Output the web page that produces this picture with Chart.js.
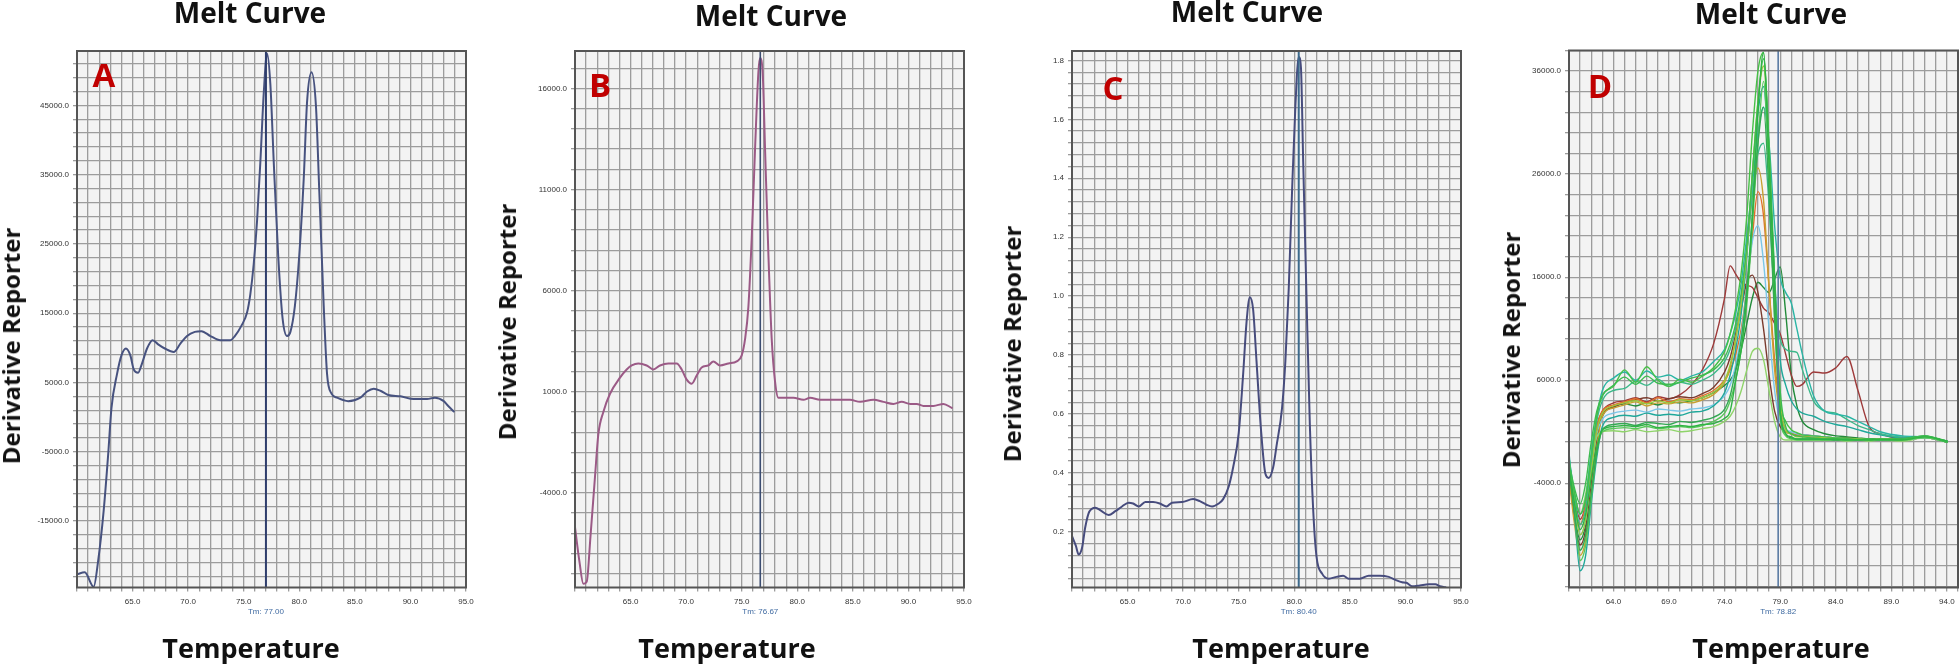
<!DOCTYPE html>
<html>
<head>
<meta charset="utf-8">
<script src="https://cdn.jsdelivr.net/npm/chart.js@4.4.1/dist/chart.umd.min.js"></script>
<style>
    html, body { margin: 0; padding: 0; background: #fff; }
    body { position: relative; width: 1960px; height: 666px; overflow: hidden; font-family: "Open Sans", sans-serif; }
    canvas { position: absolute; top: 0; }
    .lbl { position: absolute; transform: translate(-50%, -50%); white-space: nowrap; font-weight: 700; line-height: 1; color: #111; }
    .title { font-size: 28px; }
    .xt { font-size: 27px; }
    .yt { font-size: 24px; transform: translate(-50%, -50%) rotate(-90deg); }
    .tag { font-size: 33px; color: #c00000; }
</style>
</head>
<body>
<canvas id="chartA" width="490" height="666" style="left:0px"></canvas>
<canvas id="chartB" width="490" height="666" style="left:490px"></canvas>
<canvas id="chartC" width="490" height="666" style="left:980px"></canvas>
<canvas id="chartD" width="490" height="666" style="left:1470px"></canvas>

<div class="lbl title" style="left:250px;top:12px">Melt Curve</div>
<div class="lbl title" style="left:771px;top:15px">Melt Curve</div>
<div class="lbl title" style="left:1247px;top:11px">Melt Curve</div>
<div class="lbl title" style="left:1771px;top:13px">Melt Curve</div>

<div class="lbl xt" style="left:251px;top:647px">Temperature</div>
<div class="lbl xt" style="left:727px;top:647px">Temperature</div>
<div class="lbl xt" style="left:1281px;top:647px">Temperature</div>
<div class="lbl xt" style="left:1781px;top:647px">Temperature</div>

<div class="lbl yt" style="left:11px;top:346px">Derivative Reporter</div>
<div class="lbl yt" style="left:507px;top:322px">Derivative Reporter</div>
<div class="lbl yt" style="left:1012px;top:344px">Derivative Reporter</div>
<div class="lbl yt" style="left:1511px;top:350px">Derivative Reporter</div>

<div class="lbl tag" style="left:104px;top:74px">A</div>
<div class="lbl tag" style="left:600px;top:84px">B</div>
<div class="lbl tag" style="left:1113px;top:87px">C</div>
<div class="lbl tag" style="left:1600px;top:85px">D</div>

<script>
// panel A
const aTemps = [60, 60.7, 61.5, 61.9, 62.4, 62.8, 63.1, 63.6, 64.0, 64.4, 64.8, 65.1, 65.5, 65.8, 66.3, 66.8, 67.3, 67.9, 68.7, 69.3,
    69.9, 70.6, 71.2, 72.0, 72.9, 73.8, 74.2, 74.8, 75.3, 75.6, 75.9, 76.2, 76.5, 76.8, 77.1, 77.4, 77.7, 78.1, 78.5, 78.9,
    79.2, 79.6, 80.0, 80.4, 80.7, 81.1, 81.5, 81.8, 82.2, 82.5, 82.9, 83.4, 84.4, 85.5, 86.1, 86.7, 87.3, 88.0, 89.1, 90.3,
    91.5, 92.2, 93.0, 93.4, 93.9];
const aValues = [-22700, -22400, -24500, -20800, -13500, -5500, 1300, 6200, 8900, 9900, 8900, 6900, 6400, 7500, 9900, 11100, 10500, 9900, 9400, 10600,
    11700, 12300, 12400, 11700, 11100, 11100, 11700, 13200, 15100, 17800, 22100, 28300, 36900, 46700, 52500, 48000, 36900, 23400, 14200, 11700,
    12300, 16000, 23400, 34400, 45500, 49800, 44900, 32600, 16000, 6200, 3400, 2800, 2300, 2800, 3700, 4100, 3800, 3200, 3000, 2600,
    2600, 2800, 2300, 1600, 800];

// panel B
const bTemps = [60, 60.4, 60.75, 61.05, 61.4, 61.8, 62.1, 62.55, 63.15, 64.05, 64.65, 65.1, 65.7, 66.45, 67.05, 67.65, 68.4, 69.15, 69.6, 70.05,
    70.5, 70.95, 71.4, 72.0, 72.45, 73.05, 73.8, 74.55, 75.0, 75.3, 75.6, 75.9, 76.2, 76.5, 76.65, 76.9, 77.1, 77.4, 77.7, 78.0,
    78.3, 78.75, 79.65, 80.55, 81.15, 82.05, 83.55, 84.75, 85.65, 86.85, 87.75, 88.65, 89.4, 90.15, 90.75, 91.35, 92.25, 93.15, 93.9];
const bValues = [-5700, -7400, -8500, -8400, -6100, -3200, -1100, 0, 900, 1700, 2100, 2300, 2400, 2300, 2100, 2300, 2400, 2400, 2100, 1600,
    1400, 1800, 2200, 2300, 2500, 2300, 2400, 2500, 2800, 3600, 5200, 8600, 13000, 16800, 17500, 16600, 13000, 7800, 3600, 1500,
    700, 700, 700, 600, 700, 600, 600, 600, 500, 600, 500, 400, 500, 400, 400, 300, 300, 400, 200];

// panel C
const cTemps = [60, 60.35, 60.6, 60.9, 61.2, 61.55, 62.1, 62.6, 63.3, 63.9, 64.5, 65.1, 65.5, 66.0, 66.6, 67.3, 67.9, 68.5, 69.0, 69.9,
    70.9, 71.5, 72.1, 72.6, 73.2, 73.6, 74.1, 74.5, 75.0, 75.4, 75.7, 76.0, 76.3, 76.6, 77.0, 77.4, 77.7, 78.1, 78.4, 78.9,
    79.2, 79.5, 79.8, 80.1, 80.4, 80.6, 80.8, 81.1, 81.4, 81.7, 82.0, 82.5, 83.1, 83.8, 84.4, 84.9, 85.9, 86.7, 87.7, 88.5,
    89.1, 89.7, 90.1, 90.6, 91.3, 92.1, 92.7, 93.1, 93.6];
const cValues = [0.185, 0.152, 0.123, 0.145, 0.217, 0.268, 0.282, 0.272, 0.257, 0.270, 0.286, 0.299, 0.296, 0.286, 0.301, 0.301, 0.296, 0.286, 0.299, 0.301,
    0.311, 0.304, 0.292, 0.286, 0.296, 0.311, 0.354, 0.419, 0.535, 0.736, 0.910, 0.996, 0.953, 0.780, 0.549, 0.397, 0.383, 0.419, 0.491, 0.621,
    0.780, 1.025, 1.357, 1.646, 1.812, 1.775, 1.458, 0.996, 0.563, 0.275, 0.116, 0.058, 0.041, 0.047, 0.051, 0.041, 0.041, 0.051, 0.051, 0.047,
    0.037, 0.029, 0.027, 0.015, 0.018, 0.022, 0.022, 0.015, 0.012];

// panel D: all wells share one temperature grid
const dTemps = [60, 60.5, 61, 61.5, 62, 62.5, 63, 64, 65, 66, 67, 68, 69, 70, 71, 72, 73,
    74, 74.5, 75, 75.5, 76, 76.5, 77, 77.5, 78, 78.5, 79, 79.5, 80, 80.5, 81,
    82, 83, 84, 85, 86, 87, 88, 90, 92, 94];
const dWell1 = [-2500, -6000, -8500, -7000, -3500, -500, 1200, 1500, 1600, 1500, 1700, 1400, 1500, 1600, 1500, 1700, 1800,
    2300, 3000, 6000, 9000, 14000, 22000, 32000, 37800, 27000, 15000, 3000, 800, 400, 300, 300,
    300, 250, 300, 200, 250, 200, 300, 200, 500, 100];
const dWell2 = [-2000, -4500, -6000, -4000, 0, 3000, 4500, 5500, 6300, 5600, 6400, 5700, 5600, 5800, 6200, 6500, 7000,
    8200, 9500, 11500, 14500, 19000, 26000, 33000, 37200, 29000, 16000, 5000, 1500, 800, 600, 500,
    400, 300, 300, 300, 200, 300, 200, 300, 600, 0];
const dWell3 = [-1500, -5000, -7000, -5500, -1000, 2500, 5000, 6200, 6800, 6000, 6900, 6300, 6500, 6000, 6400, 6800, 7800,
    9000, 10500, 12500, 15500, 20000, 25000, 30000, 32500, 29000, 21000, 16000, 14500, 13500, 11000, 8500,
    4500, 3000, 2700, 2500, 2000, 1500, 1000, 600, 500, 100];
const dWell4 = [-3000, -6500, -8000, -6000, -2000, 1500, 3000, 3600, 3900, 4200, 3800, 4300, 3900, 4200, 4100, 4500, 5000,
    6000, 7000, 8500, 11000, 15000, 20000, 24300, 22000, 15000, 8000, 3000, 1200, 800, 700, 600,
    500, 400, 300, 300, 300, 200, 200, 200, 400, 0];
const dWell5 = [-2500, -5500, -7500, -6000, -2500, 1500, 3000, 3800, 4000, 4300, 3900, 4400, 4200, 4600, 5500, 7000, 9500,
    14000, 17100, 16300, 15500, 15200, 15000, 14000, 13000, 12500, 11500, 10500, 8500, 6500, 5400, 5600,
    6800, 6700, 7200, 8300, 5000, 1500, 800, 400, 500, 0];
const dWell6 = [-2000, -6000, -9000, -7500, -3000, 800, 2200, 2800, 3000, 3100, 2900, 3200, 3100, 3000, 3200, 3300, 3600,
    4500, 5500, 7500, 10500, 15000, 19500, 21000, 17500, 11000, 5000, 2000, 1200, 1000, 800, 700,
    600, 500, 400, 300, 300, 200, 300, 200, 400, 0];
const dWell7 = [-3000, -7000, -9500, -8000, -4000, 500, 2500, 3400, 3700, 3500, 3800, 3600, 3900, 3800, 4000, 4300, 4800,
    5500, 6000, 7000, 9000, 11500, 14000, 15500, 15000, 14500, 15800, 17000, 12500, 6500, 3500, 2000,
    1200, 800, 600, 500, 400, 300, 300, 300, 500, 100];
const dWell8 = [-2000, -5000, -7000, -5000, -1500, 500, 1000, 1100, 1000, 1200, 1000, 1100, 1200, 1000, 1100, 1300, 1500,
    2000, 2500, 3500, 5000, 7000, 8800, 9100, 8000, 5000, 2000, 500, 200, 200, 200, 200,
    200, 200, 200, 100, 200, 100, 200, 100, 400, 0];
const dWell9 = [-2800, -7000, -10500, -9000, -5000, -1000, 1200, 1700, 1800, 1600, 1900, 1800, 1700, 2000, 1900, 2100, 2400,
    3200, 4500, 7000, 10000, 15000, 22000, 29000, 32500, 24000, 12000, 3000, 800, 500, 300, 300,
    300, 300, 200, 300, 200, 300, 200, 300, 600, 0];
const dWell10 = [-1800, -5500, -8000, -6500, -2000, 2000, 4000, 5000, 5200, 5900, 5500, 6100, 5400, 5800, 5600, 6000, 6600,
    7800, 9000, 11000, 14000, 18500, 24000, 28000, 29000, 23000, 14000, 10000, 9000, 8800, 8700, 7000,
    4000, 3000, 2800, 2200, 1600, 1200, 800, 500, 500, 100];
const dWell11 = [-2500, -6000, -9000, -7500, -3000, 1000, 2800, 3500, 3800, 4000, 3700, 4000, 3800, 4100, 4000, 4300, 4800,
    6000, 7500, 10000, 13500, 18500, 26000, 33000, 36500, 28000, 15000, 4000, 1200, 800, 500, 500,
    400, 400, 300, 300, 300, 200, 300, 200, 500, 0];
const dWell12 = [-3500, -8000, -11000, -9500, -5000, -500, 2500, 3300, 3600, 3900, 3500, 3800, 3700, 3900, 3800, 4100, 4600,
    5800, 7200, 10000, 13500, 18500, 24000, 26600, 23500, 15000, 7000, 2500, 1000, 800, 600, 600,
    500, 400, 400, 300, 300, 300, 200, 300, 500, 0];
const dWell13 = [-3000, -7500, -10000, -8500, -4000, 0, 2600, 3400, 3800, 4100, 4300, 4000, 4200, 4400, 4300, 4700, 5300,
    6800, 8200, 10500, 13000, 15500, 16200, 14500, 11000, 6500, 3000, 1500, 1000, 800, 700, 700,
    600, 500, 400, 400, 300, 300, 200, 200, 400, 0];
const dWell14 = [-1000, -7000, -12500, -11000, -6000, -1500, 1500, 2400, 2600, 2500, 2800, 2600, 2700, 2600, 2900, 3000, 3500,
    4800, 6500, 9000, 12500, 18000, 26000, 32000, 34500, 27000, 16000, 8000, 5500, 4000, 3200, 2800,
    2500, 2000, 1700, 1500, 1200, 900, 700, 400, 500, 0];
const dWell15 = [-2200, -5000, -7000, -5500, -1500, 2500, 4500, 5400, 7000, 5800, 7300, 6000, 5400, 6100, 5800, 6400, 7200,
    8800, 10500, 13000, 16500, 22000, 30000, 36000, 37800, 28000, 14000, 4000, 2000, 1200, 900, 700,
    600, 500, 400, 400, 300, 300, 300, 300, 600, 100];
const dWell16 = [-1500, -6500, -11500, -10000, -5500, -1000, 1000, 1300, 1400, 1300, 1500, 1300, 1400, 1500, 1400, 1600, 2000,
    2800, 4000, 6000, 9000, 13500, 21000, 29000, 35000, 26000, 12000, 2500, 600, 300, 200, 200,
    200, 200, 200, 200, 200, 200, 200, 200, 400, 0];

// tick labels
const abcXTicks = [65, 70, 75, 80, 85, 90, 95];
const dXTicks = [64, 69, 74, 79, 84, 89, 94];
const aYTicks = [45000, 35000, 25000, 15000, 5000, -5000, -15000];
const bYTicks = [16000, 11000, 6000, 1000, -4000];
const cYTicks = [1.8, 1.6, 1.4, 1.2, 1.0, 0.8, 0.6, 0.4, 0.2];
const dYTicks = [36000, 26000, 16000, 6000, -4000];

const meltTm = { A: 77.00, B: 76.67, C: 80.40, D: 78.82 };

const PLOT_BOTTOM = 587.5;
const CANVAS_H = 666;
const gridColor = "#9c9c9c";
const tickFont = { family: "'Liberation Sans', Arial, sans-serif", size: 8 };

// grid lines: every `step`, lined up with the labelled tick `anchor`
function gridValues(min, max, step, anchor) {
    const out = [];
    for (let k = Math.ceil((min - anchor) / step - 1e-9); anchor + k * step <= max + 1e-9; k++) {
        out.push(+(anchor + k * step).toFixed(4));
    }
    return out;
}

function labelFor(list, value) {
    return list.some((t) => Math.abs(t - value) < 1e-6) ? value.toFixed(1) : "";
}

function toPoints(xs, ys) {
    return xs.map((x, i) => ({ x, y: ys[i] }));
}

const meltDecor = {
    id: "meltDecor",
    beforeDraw(chart) {
        const { ctx, chartArea: a } = chart;
        ctx.save();
        ctx.fillStyle = "#f3f3f3";
        ctx.fillRect(a.left, a.top, a.right - a.left, a.bottom - a.top);
        ctx.restore();
    },
    afterDatasetsDraw(chart, args, opts) {
        const { ctx, chartArea: a } = chart;
        const px = chart.scales.x.getPixelForValue(opts.tm);
        ctx.save();
        ctx.strokeStyle = opts.cursorColor;
        ctx.lineWidth = opts.cursorWidth;
        ctx.beginPath();
        ctx.moveTo(px, a.top);
        ctx.lineTo(px, a.bottom);
        ctx.stroke();

        ctx.strokeStyle = "#555";
        ctx.lineWidth = 2;
        ctx.strokeRect(a.left, a.top, a.right - a.left, a.bottom - a.top);

        ctx.fillStyle = "#3f6aa1";
        ctx.font = "8px 'Liberation Sans', Arial, sans-serif";
        ctx.textAlign = "center";
        ctx.textBaseline = "middle";
        ctx.fillText("Tm: " + opts.tm.toFixed(2), px, a.bottom + 24.5);
        ctx.restore();
    },
};

function buildMeltChart(id, p) {
    return new Chart(document.getElementById(id), {
        type: "line",
        data: { datasets: p.datasets },
        options: {
            responsive: false,
            animation: false,
            events: [],
            layout: { padding: { left: 0, right: p.padRight, top: p.top, bottom: 0 } },
            elements: {
                point: { radius: 0 },
                line: { cubicInterpolationMode: "monotone", borderCapStyle: "round", borderJoinStyle: "round" },
            },
            plugins: {
                legend: { display: false },
                tooltip: { enabled: false },
                meltDecor: { tm: p.tm, cursorColor: p.cursorColor, cursorWidth: p.cursorWidth },
            },
            scales: {
                x: {
                    type: "linear",
                    min: 60,
                    max: 95,
                    afterBuildTicks: (s) => { s.ticks = gridValues(60, 95, 1, p.xTicks[0]).map((v) => ({ value: v })); },
                    afterFit: (s) => { s.height = CANVAS_H - PLOT_BOTTOM; s.paddingLeft = 0; s.paddingRight = 0; },
                    grid: { color: gridColor, lineWidth: 1.3, tickLength: 4 },
                    border: { display: false },
                    ticks: {
                        autoSkip: false, maxRotation: 0, minRotation: 0, padding: 5,
                        font: tickFont, color: "#333",
                        callback: (v) => labelFor(p.xTicks, v),
                    },
                },
                y: {
                    type: "linear",
                    min: p.yMin,
                    max: p.yMax,
                    afterBuildTicks: (s) => { s.ticks = gridValues(p.yMin, p.yMax, p.yStep, p.yTicks[0]).map((v) => ({ value: v })); },
                    afterFit: (s) => { s.width = p.axisWidth; s.paddingTop = 0; s.paddingBottom = 0; },
                    grid: { color: gridColor, lineWidth: 1.3, tickLength: 4 },
                    border: { display: false },
                    ticks: {
                        autoSkip: false, padding: 4,
                        font: tickFont, color: "#333",
                        callback: (v) => labelFor(p.yTicks, v),
                    },
                },
            },
        },
        plugins: [meltDecor],
    });
}

function curve(xs, ys, color, width) {
    return { data: toPoints(xs, ys), borderColor: color, borderWidth: width, fill: false };
}

buildMeltChart("chartA", {
    datasets: [curve(aTemps, aValues, "#47527f", 2)],
    xTicks: abcXTicks, yTicks: aYTicks,
    yMin: -24600, yMax: 52850, yStep: 2000,
    axisWidth: 77, padRight: 24, top: 51,
    tm: meltTm.A, cursorColor: "#2e3d6c", cursorWidth: 2,
});

buildMeltChart("chartB", {
    datasets: [curve(bTemps, bValues, "#9b5a86", 2)],
    xTicks: abcXTicks, yTicks: bYTicks,
    yMin: -8680, yMax: 17850, yStep: 1000,
    axisWidth: 85, padRight: 16, top: 51,
    tm: meltTm.B, cursorColor: "#3b4c70", cursorWidth: 1.6,
});

buildMeltChart("chartC", {
    datasets: [curve(cTemps, cValues, "#474c7d", 2)],
    xTicks: abcXTicks, yTicks: cYTicks,
    yMin: 0.011, yMax: 1.832, yStep: 0.04,
    axisWidth: 92, padRight: 9, top: 51,
    tm: meltTm.C, cursorColor: "#3d6a8c", cursorWidth: 2,
});

const dWells = [
    [dWell1, "#2fb344"], [dWell2, "#3dbb50"], [dWell9, "#34a853"], [dWell16, "#58c85a"],
    [dWell11, "#9cc83c"], [dWell15, "#46c046"], [dWell3, "#2ab5a5"], [dWell10, "#3cb88a"],
    [dWell14, "#1fa89a"], [dWell6, "#7ac6e8"], [dWell8, "#8fd46a"], [dWell12, "#c8a030"],
    [dWell4, "#e0702a"], [dWell13, "#7a3b2e"], [dWell5, "#9e3a3a"], [dWell7, "#228b3a"],
];

buildMeltChart("chartD", {
    datasets: dWells.map(([vals, color]) => curve(dTemps, vals, color, 1.4)),
    xTicks: dXTicks, yTicks: dYTicks,
    yMin: -14120, yMax: 38000, yStep: 2000,
    axisWidth: 99, padRight: 2, top: 50.5,
    tm: meltTm.D, cursorColor: "#5a7aa3", cursorWidth: 1.6,
});
</script>
</body>
</html>
